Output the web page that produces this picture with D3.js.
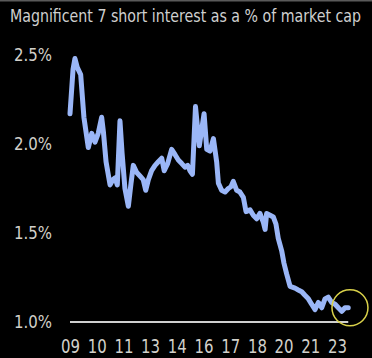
<!DOCTYPE html>
<html><head><meta charset="utf-8">
<script src="https://cdn.jsdelivr.net/npm/d3@7"></script>
<style>
html,body{margin:0;padding:0;background:#000;}
svg{display:block;}
</style></head>
<body>
<svg id="chart" width="372" height="358"></svg>
<script>
const title = "Magnificent 7 short interest as a % of market cap";
const years = [2009.0,2009.16,2009.26,2009.38,2009.56,2009.73,2009.96,2010.14,2010.31,2010.48,2010.66,2010.75,2010.89,2011.10,2011.25,2011.36,2011.48,2011.62,2011.73,2011.88,2012.06,2012.20,2012.32,2012.50,2012.67,2012.84,2012.97,2013.11,2013.28,2013.46,2013.63,2013.81,2013.94,2014.12,2014.33,2014.51,2014.68,2014.86,2015.03,2015.17,2015.29,2015.42,2015.58,2015.78,2016.03,2016.17,2016.34,2016.52,2016.69,2016.78,2016.95,2017.13,2017.30,2017.44,2017.56,2017.74,2017.91,2018.09,2018.23,2018.44,2018.61,2018.79,2018.96,2019.14,2019.23,2019.31,2019.49,2019.66,2019.80,2019.92,2020.10,2020.22,2020.36,2020.54,2020.80,2020.97,2021.15,2021.32,2021.50,2021.67,2021.85,2022.02,2022.20,2022.37,2022.54,2022.72,2022.90,2023.07,2023.25,2023.42,2023.59];
const shortInterest = [2.17,2.42,2.48,2.43,2.39,2.15,1.98,2.06,2.01,2.06,2.15,2.07,1.90,1.77,1.80,1.81,1.77,2.13,1.95,1.75,1.65,1.78,1.88,1.84,1.82,1.80,1.74,1.80,1.85,1.88,1.90,1.92,1.85,1.89,1.97,1.94,1.91,1.89,1.87,1.88,1.85,1.83,2.21,1.99,2.17,1.97,1.96,2.03,1.90,1.78,1.74,1.73,1.75,1.76,1.79,1.74,1.73,1.70,1.62,1.63,1.60,1.58,1.61,1.56,1.52,1.61,1.60,1.59,1.55,1.47,1.40,1.33,1.27,1.20,1.19,1.18,1.17,1.15,1.13,1.10,1.07,1.11,1.08,1.13,1.14,1.11,1.10,1.08,1.06,1.08,1.08];
const xTickYears = [2009.0,2010.4,2011.8,2013.2,2014.6,2016.0,2017.4,2018.8,2020.2,2021.6,2023.0];
const xTickLabels = ["09","10","11","13","14","16","17","18","20","21","23"];
const yTicks = [1.0,1.5,2.0,2.5];
const yTickLabels = ["1.0%","1.5%","2.0%","2.5%"];
const highlight = {year: 2023.68, value: 1.08};

const data = years.map((y,i)=>({year:y, value:shortInterest[i]}));
const svg = d3.select("#chart");
const x = d3.scaleLinear().domain([2009,2023]).range([70,337]);
const y = d3.scaleLinear().domain([1.0,2.5]).range([322,55]);
const FONT = "'Liberation Sans Narrow','DejaVu Sans Condensed','Liberation Sans',Arial,sans-serif";

svg.append("rect").attr("x",0).attr("y",0).attr("width",372).attr("height",358).attr("fill","#000");
svg.append("rect").attr("x",0).attr("y",0).attr("width",372).attr("height",1.5).attr("fill","#5a5a5a");

svg.append("text").attr("x",10).attr("y",22)
  .attr("font-family",FONT).attr("font-size",16).attr("fill","#cfcfcf")
  .attr("textLength",351).attr("lengthAdjust","spacingAndGlyphs")
  .attr("transform","translate(10,22) scale(1,1.09) translate(-10,-22)")
  .text(title);

// y axis
const yAxis = d3.axisLeft(y).tickValues(yTicks).tickFormat((d,i)=>yTickLabels[i]).tickSize(0).tickPadding(0);
const gy = svg.append("g").attr("transform","translate(52,0)").call(yAxis);
gy.select(".domain").remove();
gy.selectAll("text").attr("font-family",FONT).attr("font-size",18).attr("fill","#d2d0ca")
  .attr("textLength",38).attr("lengthAdjust","spacingAndGlyphs");

// x axis
const xAxis = d3.axisBottom(x).tickValues(xTickYears).tickFormat((d,i)=>xTickLabels[i]).tickSize(0).tickPadding(0);
const gx = svg.append("g").attr("transform","translate(0,337)").call(xAxis);
gx.select(".domain").remove();
gx.selectAll("text").attr("font-family",FONT).attr("font-size",20).attr("fill","#d2d0ca")
  .attr("dy",null).attr("y",16).attr("textLength",19).attr("lengthAdjust","spacingAndGlyphs");

// baseline
svg.append("line").attr("x1",x(years[0])).attr("x2",x(years[years.length-1]))
  .attr("y1",y(1.0)).attr("y2",y(1.0)).attr("stroke","#cfcfcf").attr("stroke-width",2);

// line
const line = d3.line().x(d=>x(d.year)).y(d=>y(d.value));
svg.append("path").datum(data).attr("d",line).attr("fill","none")
  .attr("stroke","#9ab6f7").attr("stroke-width",5).attr("stroke-linejoin","round").attr("stroke-linecap","round");

// highlight circle
svg.append("circle").attr("cx",x(highlight.year)).attr("cy",y(highlight.value)).attr("r",18)
  .attr("fill","none").attr("stroke","#d9d14a").attr("stroke-width",1.5);
</script>
</body></html>
